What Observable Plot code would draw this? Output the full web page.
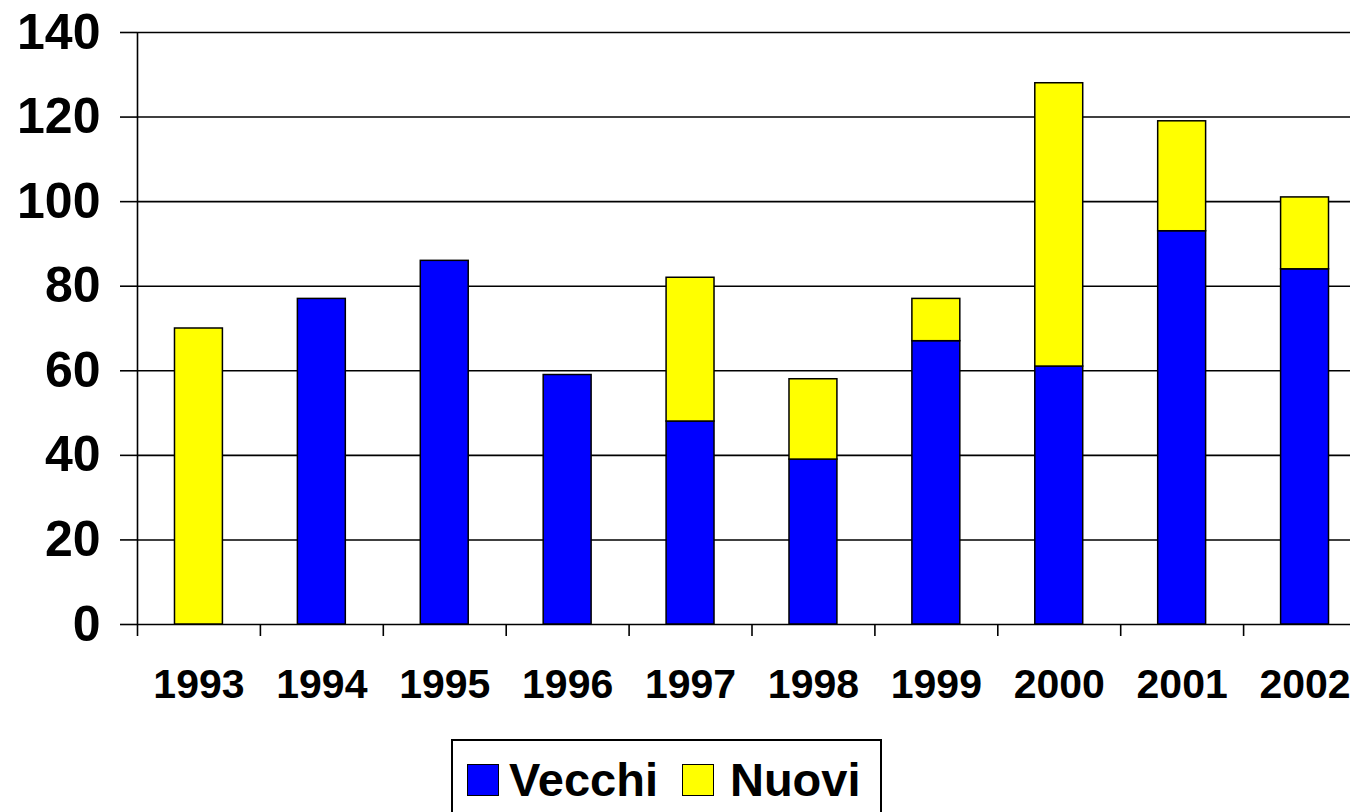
<!DOCTYPE html>
<html>
<head>
<meta charset="utf-8">
<script src="https://cdn.jsdelivr.net/npm/d3@7"></script>
<script src="https://cdn.jsdelivr.net/npm/@observablehq/plot@0.6"></script>
<style>
  html, body { margin: 0; padding: 0; background: #fff; }
  #wrap { position: relative; width: 1350px; height: 812px; overflow: hidden; font-family: "Liberation Sans", Arial, sans-serif; font-weight: bold; }
  #legend { position: absolute; left: 451px; top: 739px; width: 427px; height: 90px; border: 2px solid #000; box-sizing: content-box; display: flex; align-items: flex-start; }
  #legend .item { display: flex; align-items: center; margin-top: 15px; }
  #legend .sw { width: 30px; height: 30px; border: 1.5px solid #000; }
  #legend .lab { font-size: 47px; line-height: 1; color: #000; }
</style>
</head>
<body>
<div id="wrap">
  <div id="chart"></div>
  <div id="legend"></div>
</div>
<script>
const years = ["1993","1994","1995","1996","1997","1998","1999","2000","2001","2002"];
const vecchi = [0, 77, 86, 59, 48, 39, 67, 61, 93, 84];
const nuovi = [70, 0, 0, 0, 34, 19, 10, 67, 26, 17];
const seriesNames = ["Vecchi", "Nuovi"];
const seriesColors = ["#0000ff", "#ffff00"];
const yTicks = [0, 20, 40, 60, 80, 100, 120, 140];

const data = [];
years.forEach((y, i) => {
  data.push({year: y, series: "Vecchi", value: vecchi[i]});
  data.push({year: y, series: "Nuovi", value: nuovi[i]});
});

const step = 1229 / years.length;

const chart = Plot.plot({
  width: 1350,
  height: 739,
  marginLeft: 137,
  marginRight: 0,
  marginTop: 32,
  marginBottom: 115,
  style: {fontFamily: '"Liberation Sans", Arial, sans-serif', fontWeight: "bold", color: "#000", background: "#fff"},
  x: {domain: years, range: [137, 1366], paddingInner: 0.61, paddingOuter: 0.305, round: false},
  y: {domain: [0, 140]},
  color: {domain: seriesNames, range: seriesColors},
  marks: [
    Plot.gridY(yTicks, {stroke: "#000", strokeOpacity: 1, strokeWidth: 1.6}),
    Plot.axisY(yTicks, {tickSize: 17, tickPadding: 20, fontSize: 50, fontWeight: "bold", stroke: "#000", strokeWidth: 1.6, label: null}),
    Plot.ruleX([years[0]], {x: d => d, dx: -step / 2, y1: 0, y2: 140, stroke: "#000", strokeWidth: 1.6}),
    Plot.axisX({tickSize: 12, dx: -step / 2, tickFormat: () => "", strokeWidth: 1.6, label: null}),
    Plot.axisX({tickSize: 0, tickPadding: 44, fontSize: 41, fontWeight: "bold", label: null}),
    Plot.barY(data.filter(d => d.value > 0), {x: "year", y: "value", fill: "series", stroke: "#000", strokeWidth: 1.5, order: seriesNames})
  ]
});
document.getElementById("chart").appendChild(chart);

const legend = document.getElementById("legend");
const gaps = [[14, 10], [24, 16]];
seriesNames.forEach((name, i) => {
  const item = document.createElement("div");
  item.className = "item";
  item.style.marginLeft = gaps[i][0] + "px";
  const sw = document.createElement("div");
  sw.className = "sw";
  sw.style.background = seriesColors[i];
  sw.style.marginRight = gaps[i][1] + "px";
  const lab = document.createElement("span");
  lab.className = "lab";
  lab.textContent = name;
  item.appendChild(sw);
  item.appendChild(lab);
  legend.appendChild(item);
});
</script>
</body>
</html>
